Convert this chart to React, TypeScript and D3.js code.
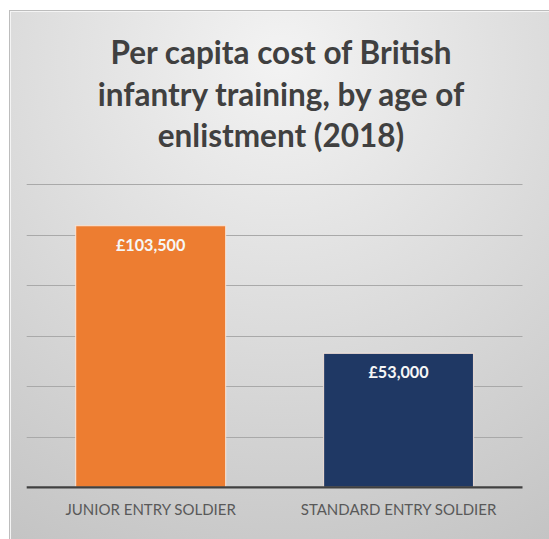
import React from "react";
import * as d3 from "d3";

const categories: string[] = ["JUNIOR ENTRY SOLDIER", "STANDARD ENTRY SOLDIER"];
const costs: number[] = [103500, 53000];
const barColors: string[] = ["#ED7D31", "#1F3864"];
const valueLabels: string[] = ["£103,500", "£53,000"];
const yTicks: number[] = [0, 20000, 40000, 60000, 80000, 100000, 120000];
const titleLines: string[] = [
  "Per capita cost of British",
  "infantry training, by age of",
  "enlistment (2018)",
];

const W = 549;
const H = 539;

export default function App() {
  const plotLeft = 26.7;
  const plotRight = 522.5;
  const plotTop = 184;
  const plotBottom = 487.3;

  const x = d3
    .scaleBand<string>()
    .domain(categories)
    .range([plotLeft, plotRight])
    .paddingInner(0.395)
    .paddingOuter(0.1975);
  const y = d3.scaleLinear().domain([0, 120000]).range([plotBottom, plotTop]);

  const titleBaselines = [64.3, 106, 146.7];
  const font = "Lato, 'Noto Sans', 'DejaVu Sans', sans-serif";

  return (
    <div style={{ position: "absolute", left: 0, top: 0, width: W, height: H, background: "#ffffff" }}>
      <svg width={W} height={H} viewBox={`0 0 ${W} ${H}`} style={{ display: "block" }}>
        <defs>
          <radialGradient id="bg" gradientUnits="userSpaceOnUse" cx={281} cy={60} r={560}>
            <stop offset="0" stopColor="#f3f3f3" />
            <stop offset="1" stopColor="#c3c3c3" />
          </radialGradient>
        </defs>
        <rect x={0} y={0} width={W} height={H} fill="#ffffff" />
        <rect x={9.5} y={10.5} width={W + 20} height={H + 20} fill="url(#bg)" stroke="#bdbdbd" strokeWidth={1} />
        <rect x={10.5} y={11.5} width={W + 20} height={H + 20} fill="none" stroke="#f4f4f4" strokeWidth={1} />

        {titleLines.map((t, i) => (
          <text
            key={i}
            x={281}
            y={titleBaselines[i]}
            textAnchor="middle"
            fontFamily={font}
            fontWeight={700}
            fontSize={31.5}
            fill="#404040"
          >
            {t}
          </text>
        ))}

        {yTicks
          .filter((v) => v > 0)
          .map((v) => (
            <line
              key={v}
              x1={plotLeft}
              x2={plotRight}
              y1={Math.round(y(v)) + 0.5}
              y2={Math.round(y(v)) + 0.5}
              stroke="#a9a9a9"
              strokeWidth={1.2}
            />
          ))}

        {categories.map((c, i) => {
          const bx = x(c) as number;
          const by = y(costs[i]);
          return (
            <g key={c}>
              <rect
                x={bx}
                y={by}
                width={x.bandwidth()}
                height={plotBottom - by}
                fill={barColors[i]}
                stroke="#fbe9dc"
                strokeOpacity={0.8}
                strokeWidth={1.2}
              />
              <text
                x={bx + x.bandwidth() / 2}
                y={by + 25}
                textAnchor="middle"
                fontFamily={font}
                fontWeight={700}
                fontSize={16.2}
                fill="#f6f6f6"
              >
                {valueLabels[i]}
              </text>
              <text
                x={bx + x.bandwidth() / 2}
                y={515}
                textAnchor="middle"
                fontFamily={font}
                fontWeight={400}
                fontSize={15}
                fill="#595959"
              >
                {c}
              </text>
            </g>
          );
        })}

        <line x1={plotLeft} x2={plotRight} y1={plotBottom} y2={plotBottom} stroke="#404040" strokeWidth={2.2} />
      </svg>
    </div>
  );
}
